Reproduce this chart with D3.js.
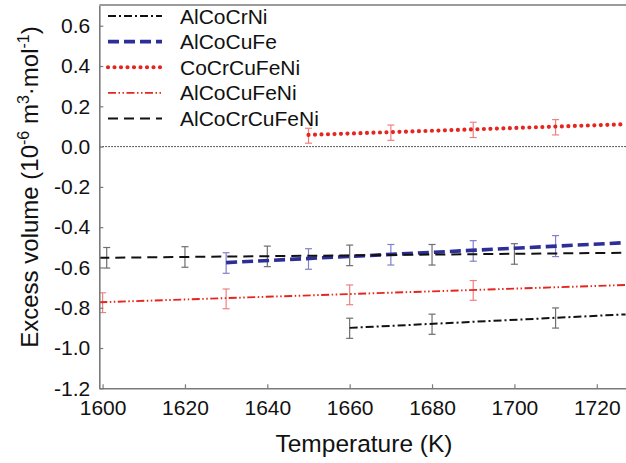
<!DOCTYPE html>
<html>
<head>
<meta charset="utf-8">
<script src="https://cdn.jsdelivr.net/npm/d3@7"></script>
<style>
  body { margin: 0; background: #fff; }
  svg { display: block; font-family: "Liberation Sans", Arial, sans-serif; }
</style>
</head>
<body>
<div id="views"></div>
<script>
// series names (legend order)
var seriesNames = ["AlCoCrNi", "AlCoCuFe", "CoCrCuFeNi", "AlCoCuFeNi", "AlCoCrCuFeNi"];

// measured points with error bars
var alcocrniT = [1660, 1680, 1710];
var alcocrniV = [-0.902, -0.882, -0.851];
var alcocrniE = [0.05, 0.05, 0.05];

var alcocufeT = [1630, 1650, 1670, 1690, 1710];
var alcocufeV = [-0.578, -0.558, -0.537, -0.518, -0.494];
var alcocufeE = [0.051, 0.051, 0.051, 0.051, 0.052];

var cocrcufeniT = [1650, 1670, 1690, 1710];
var cocrcufeniV = [0.054, 0.069, 0.083, 0.096];
var cocrcufeniE = [0.037, 0.038, 0.038, 0.038];

var alcocufeniT = [1600, 1630, 1660, 1690];
var alcocufeniV = [-0.775, -0.756, -0.736, -0.714];
var alcocufeniE = [0.049, 0.049, 0.049, 0.049];

var alcocrcufeniT = [1601, 1620, 1640, 1660, 1680, 1700];
var alcocrcufeniV = [-0.552, -0.548, -0.545, -0.540, -0.537, -0.533];
var alcocrcufeniE = [0.051, 0.051, 0.051, 0.051, 0.051, 0.051];

// linear fits: [start T, end T], [start value, end value]
var fitT = [[1660, 1727], [1630, 1727], [1650, 1727], [1599.2, 1727], [1599.2, 1727]];
var fitV = [[-0.900, -0.833], [-0.576, -0.477], [0.058, 0.111], [-0.773, -0.687], [-0.552, -0.527]];

var xTicks = [1600, 1620, 1640, 1660, 1680, 1700, 1720];
var yTicks = [-1.2, -1.0, -0.8, -0.6, -0.4, -0.2, 0.0, 0.2, 0.4, 0.6];

var W = 626, H = 463;
var plot = {left: 99.3, right: 626, top: 5.6, bottom: 388.3};

var styles = [
    {color: "#111", width: 2, dash: "8 3 2 3", cap: "butt", err: "#6e6e6e"},
    {color: "#2e2e98", width: 3.6, dash: "11 5", cap: "butt", err: "#8080cc"},
    {color: "#e5261f", width: 4.2, dash: "0 6.5", cap: "round", err: "#ef8080"},
    {color: "#e5261f", width: 1.9, dash: "8 2.5 1.5 2.5 1.5 2.5", cap: "butt", err: "#ef8080"},
    {color: "#111", width: 2, dash: "10 6", cap: "butt", err: "#6e6e6e"}
];

var points = [
    [alcocrniT, alcocrniV, alcocrniE],
    [alcocufeT, alcocufeV, alcocufeE],
    [cocrcufeniT, cocrcufeniV, cocrcufeniE],
    [alcocufeniT, alcocufeniV, alcocufeniE],
    [alcocrcufeniT, alcocrcufeniV, alcocrcufeniE]
];

function renderChart() {
    var svg = d3.select("#views").append("svg").attr("width", W).attr("height", H);

    var x = d3.scaleLinear().domain([1599.2, 1727.1]).range([plot.left, plot.right]);
    var y = d3.scaleLinear().domain([-1.2, 0.7]).range([plot.bottom, plot.top]);

    var axisColor = "#7a7a7a";

    // zero reference line
    svg.append("line")
        .attr("x1", plot.left).attr("x2", plot.right)
        .attr("y1", y(0)).attr("y2", y(0))
        .attr("stroke", "#222").attr("stroke-width", 1).attr("stroke-dasharray", "1.5 1.5");

    // error bars
    points.forEach(function(p, i) {
        var g = svg.append("g").attr("stroke", styles[i].err).attr("stroke-width", 1.2).attr("fill", "none");
        p[0].forEach(function(t, j) {
            var cx = x(t), y1 = y(p[1][j] + p[2][j]), y2 = y(p[1][j] - p[2][j]);
            g.append("line").attr("x1", cx).attr("x2", cx).attr("y1", y1).attr("y2", y2);
            g.append("line").attr("x1", cx - 3.5).attr("x2", cx + 3.5).attr("y1", y1).attr("y2", y1);
            g.append("line").attr("x1", cx - 3.5).attr("x2", cx + 3.5).attr("y1", y2).attr("y2", y2);
        });
    });

    // fit lines
    var line = d3.line().x(function(d) { return x(d[0]); }).y(function(d) { return y(d[1]); });
    fitT.forEach(function(ts, i) {
        var s = styles[i];
        svg.append("path")
            .datum([[ts[0], fitV[i][0]], [ts[1], fitV[i][1]]])
            .attr("d", line)
            .attr("fill", "none")
            .attr("stroke", s.color)
            .attr("stroke-width", s.width)
            .attr("stroke-dasharray", s.dash)
            .attr("stroke-linecap", s.cap);
    });

    // axes (ticks inside)
    var xAxis = d3.axisBottom(x).tickValues(xTicks).tickSizeInner(-4).tickSizeOuter(0).tickPadding(12).tickFormat(d3.format("d"));
    var yAxis = d3.axisLeft(y).tickValues(yTicks).tickSizeInner(-4).tickSizeOuter(0).tickPadding(9);

    var gx = svg.append("g").attr("transform", "translate(0," + plot.bottom + ")").call(xAxis);
    var gy = svg.append("g").attr("transform", "translate(" + plot.left + ",0)").call(yAxis);
    [gx, gy].forEach(function(g) {
        g.select(".domain").attr("stroke", axisColor).attr("stroke-width", 1.6);
        g.selectAll(".tick line").attr("stroke", axisColor).attr("stroke-width", 1.2);
        g.selectAll(".tick text").attr("fill", "#111").style("font-size", "21px").style("font-family", "'Liberation Sans', Arial, sans-serif");
    });
    gx.selectAll(".tick text").attr("dy", "0.71em");
    gy.selectAll(".tick text").text(function(d) { return d3.format(".1f")(d).replace("\u2212", "-"); });

    // top frame line
    svg.append("line")
        .attr("x1", plot.left).attr("x2", plot.right).attr("y1", plot.top - 0.6).attr("y2", plot.top - 0.6)
        .attr("stroke", axisColor).attr("stroke-width", 1.6);

    // axis titles
    svg.append("text")
        .attr("x", 364).attr("y", 452)
        .attr("text-anchor", "middle")
        .style("font-size", "24.5px").attr("fill", "#111")
        .text("Temperature (K)");

    var yt = svg.append("text")
        .attr("transform", "translate(38,187) rotate(-90)")
        .attr("text-anchor", "middle")
        .style("font-size", "24px").attr("fill", "#111");
    yt.append("tspan").text("Excess volume (10");
    yt.append("tspan").attr("dy", -9).style("font-size", "16px").text("-6");
    yt.append("tspan").attr("dy", 9).text(" m");
    yt.append("tspan").attr("dy", -9).style("font-size", "16px").text("3");
    yt.append("tspan").attr("dy", 9).text("\u00b7mol");
    yt.append("tspan").attr("dy", -9).style("font-size", "16px").text("-1");
    yt.append("tspan").attr("dy", 9).text(")");

    // legend
    var legendY = d3.scalePoint().domain(seriesNames).range([16, 118.5]);
    var legend = svg.append("g");
    seriesNames.forEach(function(name, i) {
        var s = styles[i], ly = legendY(name);
        legend.append("line")
            .attr("x1", 108).attr("x2", 162).attr("y1", ly).attr("y2", ly)
            .attr("stroke", s.color).attr("stroke-width", s.width)
            .attr("stroke-dasharray", s.dash).attr("stroke-linecap", s.cap);
        legend.append("text")
            .attr("x", 180).attr("y", ly).attr("dy", "0.36em")
            .style("font-size", "21px").attr("fill", "#111")
            .text(name);
    });
}

renderChart();
</script>
</body>
</html>
